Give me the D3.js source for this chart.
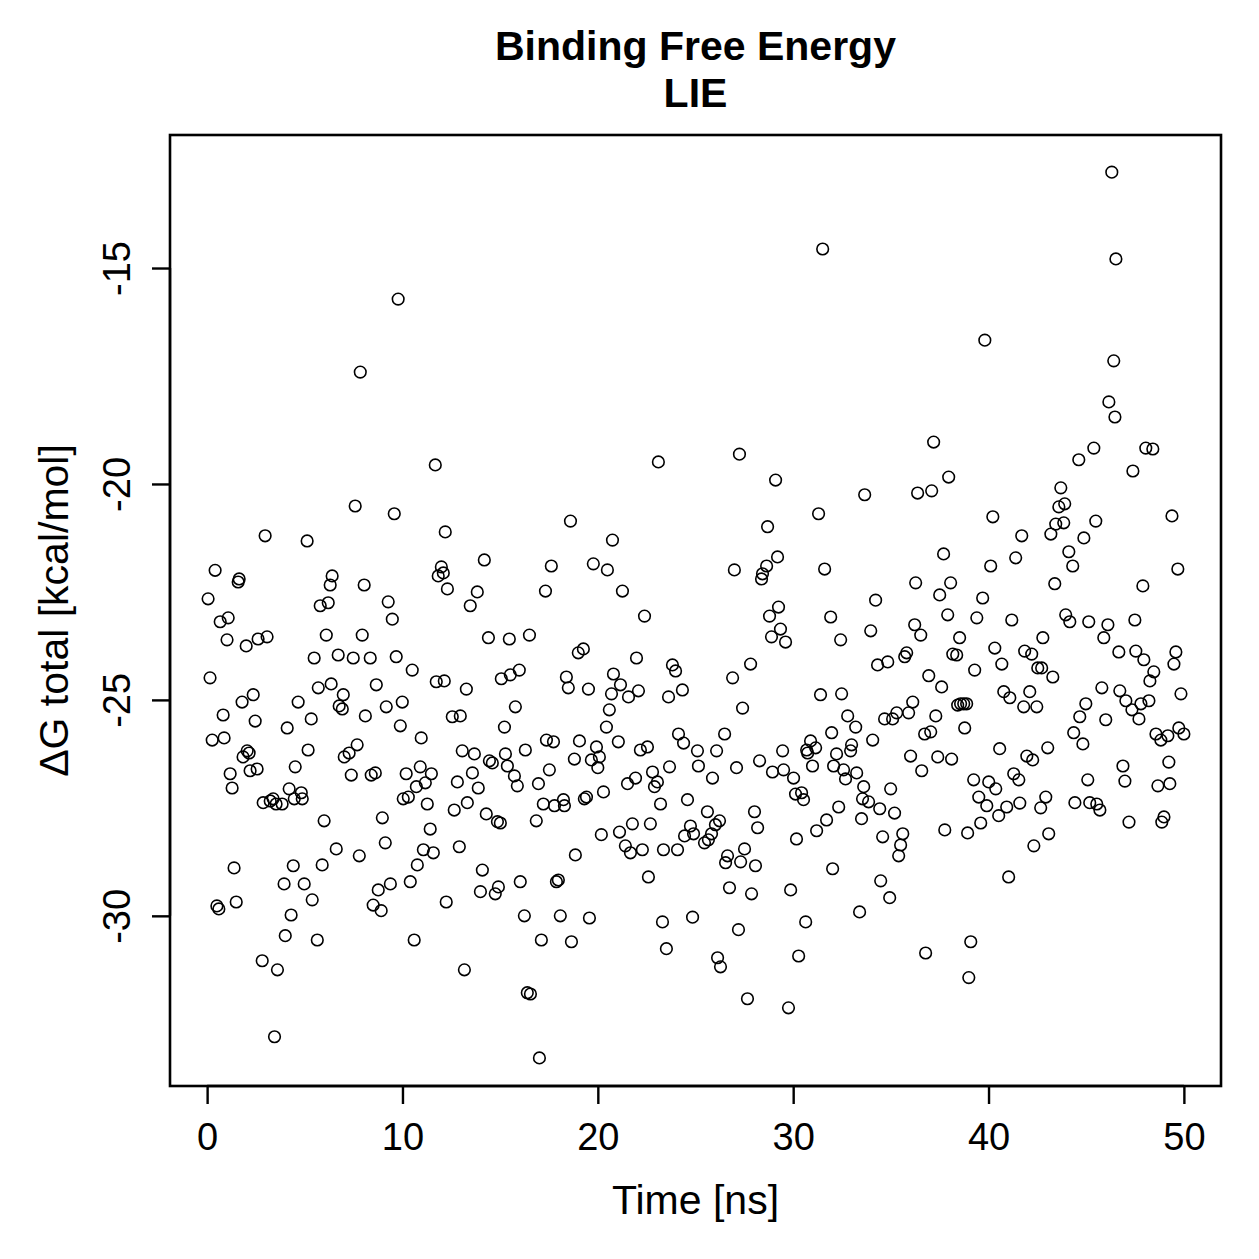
<!DOCTYPE html>
<html>
<head>
<meta charset="utf-8">
<script src="https://cdn.jsdelivr.net/npm/d3@7"></script>
<style>
  body { margin: 0; background: #fff; }
  text { font-family: "Liberation Sans", Arial, Helvetica, sans-serif; }
</style>
</head>
<body>
<div id="chart"></div>
<script>
// chart texts
var titleLines = ['Binding Free Energy', 'LIE'];
var xLabel = 'Time [ns]';
var yLabel = '\u0394G total [kcal/mol]';
var xTicks = [0, 10, 20, 30, 40, 50];
var yTicks = [-15, -20, -25, -30];

// time [ns] and dG total [kcal/mol], in time order
var timeNs = [
  0.05,0.15,0.26,0.41,0.5,0.6,0.67,0.82,0.87,1.02,1.08,1.18,1.28,1.38,1.49,1.59,1.64,1.79,1.84,2.0,
  2.05,2.15,2.2,2.36,2.46,2.56,2.61,2.82,2.87,2.97,3.07,3.23,3.38,3.45,3.53,3.6,
  3.84,3.94,4.0,4.1,4.2,4.3,4.41,4.46,4.51,4.66,4.82,4.87,4.97,5.12,5.17,5.33,5.38,5.48,5.64,5.69,
  5.79,5.89,5.99,6.1,6.2,6.3,6.4,6.35,6.61,6.71,6.76,6.92,6.97,7.02,7.27,7.38,7.48,7.58,7.68,7.79,
  7.84,7.94,8.04,8.1,
  8.35,8.4,8.5,8.61,8.66,8.76,8.91,8.97,9.12,9.17,9.27,9.38,9.48,9.58,9.68,9.78,9.89,9.99,10.04,
  10.19,10.3,10.4,10.5,10.6,10.71,10.76,10.91,10.96,11.07,11.17,11.27,11.42,11.48,11.58,11.68,11.73,
  11.83,11.99,12.09,12.14,12.24,12.19,12.3,
  12.55,12.65,12.81,12.91,12.96,13.06,13.17,13.27,13.32,13.47,13.58,13.68,13.83,13.88,13.99,14.09,
  14.19,14.29,14.4,14.45,14.6,14.75,14.86,14.91,15.01,15.06,15.22,15.27,15.37,15.47,15.52,15.73,15.78,
  15.88,15.98,16.03,16.24,16.29,16.39,16.5,16.55,
  16.85,16.96,17.01,17.11,17.21,17.32,17.37,17.52,17.62,17.73,17.78,17.88,17.98,18.08,18.24,18.29,
  18.39,18.49,18.6,18.65,18.8,18.85,19.0,19.06,19.26,19.31,19.42,19.52,19.57,19.67,19.77,19.93,20.0,
  20.08,20.18,20.29,20.44,20.49,20.59,20.7,20.75,20.8,
  21.05,21.11,21.16,21.26,21.41,21.52,21.57,21.67,21.77,21.93,21.98,22.08,22.18,22.28,22.39,22.54,
  22.59,22.69,22.8,22.9,23.05,23.1,23.21,23.31,23.36,23.51,23.62,23.67,23.82,23.98,24.08,24.13,24.33,
  24.39,24.44,24.59,24.74,24.85,24.9,25.1,25.15,
  25.46,25.61,25.66,25.82,25.87,26.02,26.08,26.13,26.23,26.28,26.49,26.54,26.64,26.74,26.9,26.99,
  27.1,27.2,27.25,27.31,27.41,27.51,27.66,27.82,27.87,28.02,28.07,28.18,28.28,28.38,28.43,28.64,28.69,
  28.79,28.89,28.94,29.1,29.2,29.25,29.35,29.46,29.51,29.61,
  29.76,29.87,30.02,30.12,30.17,30.28,30.43,30.53,30.64,30.69,30.74,30.89,30.99,31.15,31.2,31.3,
  31.4,31.51,31.61,31.71,31.92,31.97,32.02,32.07,32.22,32.33,32.43,32.48,32.58,32.68,32.79,32.94,32.99,
  33.2,33.25,33.4,33.5,33.55,33.61,33.66,33.86,
  33.97,34.07,34.22,34.32,34.43,34.48,34.58,34.68,34.84,34.94,34.99,35.09,35.19,35.3,35.4,35.5,35.61,
  35.71,35.81,35.91,36.01,36.12,36.22,36.27,36.37,36.53,36.58,36.73,36.78,36.94,37.04,37.09,37.19,
  37.3,37.4,37.5,37.6,37.7,37.76,37.91,37.96,38.06,38.11,38.17,
  38.37,38.42,38.52,38.57,38.73,38.78,38.88,38.93,38.99,39.09,39.24,39.29,39.4,39.5,39.6,39.7,39.81,
  39.91,40.01,40.11,40.22,40.32,40.37,40.52,40.57,40.68,40.78,40.93,41.03,41.09,41.19,41.29,41.39,
  41.55,41.6,41.7,41.8,41.85,41.96,42.11,42.21,42.26,42.32,42.47,42.52,
  42.67,42.72,42.78,42.93,43.03,43.08,43.19,43.29,43.39,43.44,43.6,43.7,43.85,43.9,43.95,44.11,44.16,
  44.31,44.36,44.42,44.62,44.67,44.83,44.88,44.98,45.08,45.13,45.18,45.39,45.49,45.54,45.7,45.8,45.9,
  46.0,46.11,46.16,46.31,46.41,46.47,46.52,46.67,46.72,46.88,46.98,
  47.03,47.19,47.34,47.39,47.49,47.54,47.7,47.8,47.9,47.95,48.05,48.21,48.26,48.41,48.46,48.57,48.67,
  48.82,48.87,48.98,49.18,49.23,49.28,49.39,49.49,49.59,49.69,49.74,49.85,50.0
];
var deltaG = [
  -22.66,-24.49,-25.93,-22.0,-29.77,-29.84,-23.19,-25.35,-25.88,-23.61,-23.1,-26.71,-27.04,-28.89,-29.68,-22.27,-22.2,-25.05,-26.32,-23.75,
  -26.18,-26.23,-26.64,-24.88,-25.49,-26.6,-23.59,-31.04,-27.38,-21.2,-23.54,-27.34,-27.29,-32.8,-27.41,-31.25,
  -27.41,-29.26,-30.46,-25.65,-27.06,-29.98,-28.84,-27.29,-26.55,-25.05,-27.15,-27.29,-29.26,-21.32,-26.16,-25.44,-29.63,-24.03,-30.56,-24.72,
  -22.82,-28.82,-27.8,-23.5,-22.75,-22.34,-22.13,-24.63,-28.45,-23.96,-25.14,-25.21,-24.88,-26.32,-26.23,-26.74,-24.03,-20.51,-26.04,-28.61,
  -17.41,-23.5,-22.34,-25.37,
  -24.03,-26.74,-29.75,-26.69,-24.65,-29.4,-29.88,-27.73,-28.31,-25.16,-22.73,-29.26,-23.13,-20.69,-24.0,-15.72,-25.6,-25.05,-27.29,
  -26.71,-27.25,-29.21,-24.31,-30.56,-27.01,-28.82,-26.55,-25.88,-28.47,-26.92,-27.41,-27.99,-26.71,-28.54,-19.56,-24.58,
  -22.13,-21.92,-22.06,-24.56,-29.68,-21.11,-22.43,
  -25.39,-27.55,-26.9,-28.4,-25.37,-26.18,-31.25,-24.75,-27.38,-22.82,-26.69,-26.25,-22.5,-27.04,-29.44,-28.94,
  -21.76,-27.64,-23.56,-26.41,-26.46,-29.49,-27.82,-29.33,-27.85,-24.51,-25.63,-26.25,-26.53,-23.59,-24.42,-26.76,-25.16,
  -26.99,-24.31,-29.21,-30.0,-26.16,-31.78,-23.5,-31.81,
  -27.8,-26.94,-33.29,-30.56,-27.41,-22.48,-25.93,-26.62,-21.9,-25.97,-27.45,-29.21,-29.17,-30.0,-27.31,-27.45,
  -24.47,-24.72,-20.86,-30.6,-26.37,-28.59,-23.91,-25.95,-23.82,-27.29,-27.25,-24.75,-30.05,-26.39,-21.85,-26.09,-26.57,
  -26.32,-28.12,-27.13,-25.63,-21.99,-25.23,-24.86,-21.3,-24.4,
  -25.97,-28.06,-24.65,-22.48,-28.38,-26.94,-24.93,-28.54,-27.87,-26.81,-24.03,-24.79,-26.16,-28.47,-23.06,-26.09,
  -29.1,-27.87,-26.67,-27.01,-26.9,-19.49,-27.41,-30.14,-28.47,-30.76,-24.93,-26.55,-24.19,-24.33,-28.47,-25.79,-24.77,
  -26.0,-28.15,-27.31,-27.92,-30.03,-28.1,-26.18,-26.53,
  -28.31,-27.59,-28.24,-28.1,-26.81,-27.89,-26.18,-30.97,-27.8,-31.18,-25.79,-28.77,-28.61,-29.35,-24.49,-21.99,
  -26.57,-30.32,-19.31,-28.75,-25.19,-28.45,-31.92,-24.17,-29.49,-27.59,-28.84,-27.96,-26.41,-22.2,-22.08,-21.9,-20.99,
  -23.06,-23.54,-26.67,-19.91,-21.69,-22.85,-23.36,-26.18,-26.62,-23.66,
  -32.13,-29.4,-26.81,-27.18,-28.22,-30.93,-27.15,-27.31,-30.14,-26.16,-26.23,-25.95,-26.53,-26.11,-28.03,-20.69,
  -24.88,-14.56,-21.97,-27.78,-23.08,-25.76,-28.91,-26.53,-26.25,-27.48,-23.61,-24.86,-26.62,-26.83,-25.37,-26.18,-26.04,
  -25.63,-26.69,-29.91,-27.75,-27.29,-27.01,-20.25,-27.36,
  -23.4,-25.93,-22.69,-24.19,-27.52,-29.19,-28.17,-25.44,-24.12,-29.58,-27.06,-25.44,-27.62,-25.3,-28.61,-28.36,-28.1,
  -24.0,-23.91,-25.3,-26.3,-25.05,-23.26,-22.29,-20.21,-23.5,-26.64,-25.79,-30.86,-24.44,-25.74,-20.16,-19.03,
  -25.37,-26.32,-22.57,-24.7,-21.62,-28.01,-23.03,-19.84,-22.29,-26.37,-23.94,
  -23.96,-25.12,-23.56,-25.09,-25.09,-25.65,-25.09,-28.08,-31.43,-30.6,-26.85,-24.31,-23.1,-27.25,-27.85,-22.64,-16.67,
  -27.45,-26.9,-21.9,-20.76,-23.8,-27.06,-27.68,-26.13,-24.17,-24.81,-27.48,-29.1,-24.95,-23.15,-26.71,-21.71,
  -26.85,-27.39,-21.2,-25.16,-23.87,-26.3,-24.81,-23.94,-26.39,-28.38,-25.16,-24.26,
  -27.5,-24.26,-23.56,-27.25,-26.11,-28.1,-21.16,-24.47,-22.31,-20.93,-20.53,-20.09,-20.9,-20.46,-23.03,-21.57,-23.19,
  -21.9,-25.76,-27.38,-19.44,-25.39,-26.02,-21.25,-25.09,-26.85,-23.19,-27.38,-19.17,-20.86,-27.41,-27.55,-24.72,-23.56,
  -25.46,-23.26,-18.1,-12.78,-17.15,-18.45,-14.79,-23.89,-24.79,-26.53,-26.88,
  -25.02,-27.83,-25.23,-19.7,-23.15,-23.87,-25.44,-25.09,-22.36,-24.07,-19.17,-25.02,-24.56,-19.19,-24.35,-25.79,-26.99,
  -25.93,-27.83,-27.71,-25.83,-26.44,-26.94,-20.74,-24.17,-23.89,-21.97,-25.65,-24.86,-25.79
];

var W = 1259, H = 1259;
var box = { left: 170, right: 1221, top: 135, bottom: 1086 };
var FONT = '"Liberation Sans", Arial, Helvetica, sans-serif';

var svg = d3.select('#chart').append('svg')
    .attr('width', W)
    .attr('height', H);

svg.append('rect').attr('width', W).attr('height', H).attr('fill', '#fff');

var x = d3.scaleLinear().domain([-1.9, 51.9]).range([box.left, box.right]);
var y = d3.scaleLinear().domain([-33.94, -11.92]).range([box.bottom, box.top]);

// points
var pts = timeNs.map(function(t, i) { return { t: t, v: deltaG[i] }; });
svg.append('g').selectAll('circle')
    .data(pts)
    .enter().append('circle')
    .attr('cx', function(d) { return x(d.t); })
    .attr('cy', function(d) { return y(d.v); })
    .attr('r', 5.8)
    .attr('fill', 'none')
    .attr('stroke', '#000')
    .attr('stroke-width', 1.6);

// box
svg.append('rect')
    .attr('x', box.left).attr('y', box.top)
    .attr('width', box.right - box.left).attr('height', box.bottom - box.top)
    .attr('fill', 'none').attr('stroke', '#000').attr('stroke-width', 2.6);

// plain hyphen for negatives, like R
var fmt = function(d) { return String(d); };

// x axis
var xAxis = d3.axisBottom(x).tickValues(xTicks).tickSize(18).tickPadding(10).tickFormat(fmt);
var gx = svg.append('g').attr('transform', 'translate(0,' + box.bottom + ')').call(xAxis);
gx.select('.domain').attr('d', 'M' + x(xTicks[0]) + ',0H' + x(xTicks[xTicks.length - 1]))
    .attr('stroke-width', 2.4);
gx.selectAll('.tick line').attr('stroke-width', 2.4);
gx.selectAll('.tick text')
    .attr('y', 64).attr('dy', null)
    .attr('font-size', 38).attr('fill', '#000')
    .attr('font-family', FONT);

// y axis, labels turned like R does
var yAxis = d3.axisLeft(y).tickValues(yTicks).tickSize(18).tickFormat(fmt);
var gy = svg.append('g').attr('transform', 'translate(' + box.left + ',0)').call(yAxis);
gy.select('.domain').attr('d', 'M0,' + y(yTicks[0]) + 'V' + y(yTicks[yTicks.length - 1]))
    .attr('stroke-width', 2.4);
gy.selectAll('.tick line').attr('stroke-width', 2.4);
gy.selectAll('.tick text')
    .attr('x', null).attr('dy', null)
    .attr('transform', 'translate(-40,0) rotate(-90)')
    .attr('text-anchor', 'middle')
    .attr('font-size', 38).attr('fill', '#000')
    .attr('font-family', FONT);

// titles
svg.append('g').selectAll('text')
    .data(titleLines)
    .enter().append('text')
    .attr('x', (box.left + box.right) / 2)
    .attr('y', function(d, i) { return 60 + i * 47; })
    .attr('text-anchor', 'middle')
    .attr('font-size', 41)
    .attr('font-weight', 'bold')
    .text(function(d) { return d; });

svg.append('text')
    .attr('x', (box.left + box.right) / 2)
    .attr('y', 1214)
    .attr('text-anchor', 'middle')
    .attr('font-size', 41)
    .text(xLabel);

svg.append('text')
    .attr('transform', 'translate(68,' + ((box.top + box.bottom) / 2) + ') rotate(-90)')
    .attr('text-anchor', 'middle')
    .attr('font-size', 41)
    .text(yLabel);
</script>
</body>
</html>
